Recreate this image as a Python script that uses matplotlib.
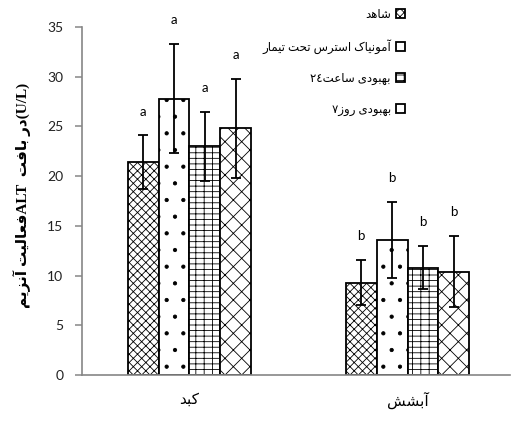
import numpy as np
import matplotlib
matplotlib.use("Agg")
import matplotlib.pyplot as plt

# minimal Persian shaping: matplotlib 3.10 does not join Arabic letters
# forms = (isolated, final, initial, medial)
FORMS = {
    'ا': ('\uFE8D', '\uFE8E', None, None),
    'آ': ('\uFE81', '\uFE82', None, None),
    'ب': ('\uFE8F', '\uFE90', '\uFE91', '\uFE92'),
    'ت': ('\uFE95', '\uFE96', '\uFE97', '\uFE98'),
    'ح': ('\uFEA1', '\uFEA2', '\uFEA3', '\uFEA4'),
    'د': ('\uFEA9', '\uFEAA', None, None),
    'ر': ('\uFEAD', '\uFEAE', None, None),
    'ز': ('\uFEAF', '\uFEB0', None, None),
    'س': ('\uFEB1', '\uFEB2', '\uFEB3', '\uFEB4'),
    'ش': ('\uFEB5', '\uFEB6', '\uFEB7', '\uFEB8'),
    'ع': ('\uFEC9', '\uFECA', '\uFECB', '\uFECC'),
    'ف': ('\uFED1', '\uFED2', '\uFED3', '\uFED4'),
    'ک': ('\uFB8E', '\uFB8F', '\uFB90', '\uFB91'),
    'ل': ('\uFEDD', '\uFEDE', '\uFEDF', '\uFEE0'),
    'م': ('\uFEE1', '\uFEE2', '\uFEE3', '\uFEE4'),
    'ن': ('\uFEE5', '\uFEE6', '\uFEE7', '\uFEE8'),
    'ه': ('\uFEE9', '\uFEEA', '\uFEEB', '\uFEEC'),
    'و': ('\uFEED', '\uFEEE', None, None),
    'ی': ('\uFBFC', '\uFBFD', '\uFBFE', '\uFBFF'),
}


def fa(text):
    out = []
    for i, ch in enumerate(text):
        f = FORMS.get(ch)
        if f is None:
            out.append(ch)
            continue
        prev = FORMS.get(text[i - 1]) if i > 0 else None
        nxt = FORMS.get(text[i + 1]) if i + 1 < len(text) else None
        jp = prev is not None and prev[2] is not None
        jn = nxt is not None and f[2] is not None
        if jp and jn:
            out.append(f[3])
        elif jp:
            out.append(f[1])
        elif jn:
            out.append(f[2])
        else:
            out.append(f[0])
    return ''.join(reversed(out))


# data
categories = [fa('کبد'), fa('آبشش')]
series_names = [
    fa('شاهد'),
    ' '.join(fa(w) for w in 'تیمار تحت استرس آمونیاک'.split()),
    '٢٤' + fa('ساعت') + ' ' + fa('بهبودی'),
    '٧' + fa('روز') + ' ' + fa('بهبودی'),
]
means = [
    [21.4, 9.3],
    [27.8, 13.6],
    [23.0, 10.8],
    [24.8, 10.4],
]
errors = [
    [2.7, 2.3],
    [5.5, 3.8],
    [3.5, 2.2],
    [5.0, 3.6],
]
letters = [['a', 'b'], ['a', 'b'], ['a', 'b'], ['a', 'b']]
hatches = ['xxxx', '.', '---||', 'xx']

ylabel = fa('فعالیت آنزیم') + 'ALT  ' + fa('در بافت') + '(U/L)'

plt.rcParams['hatch.linewidth'] = 0.6
plt.rcParams['font.family'] = ['Lato', 'DejaVu Sans']

fig = plt.figure(figsize=(5.23, 4.21), dpi=100)
ax = fig.add_axes([82 / 523, 46 / 421, 428 / 523, 348 / 421])

x = np.arange(len(categories))
w = 0.142
for i in range(4):
    pos = x + (i - 1.5) * w
    ax.bar(pos, means[i], w, color='white', edgecolor='black', linewidth=1.3,
           hatch=hatches[i], label=series_names[i], zorder=2)
    ax.errorbar(pos, means[i], yerr=errors[i], fmt='none', ecolor='black',
                elinewidth=1.3, capsize=3.5, capthick=1.3, zorder=3)
    for j in range(len(categories)):
        ax.text(pos[j], means[i][j] + errors[i][j] + 2.4, letters[i][j],
                ha='center', va='center', fontsize=9.5, clip_on=False)

ax.set_xlim(-0.493, 1.47)
ax.set_ylim(0, 35)
ax.set_yticks(range(0, 36, 5))
ax.set_xticks(x)
ax.set_xticklabels(categories, fontsize=11, family=['DejaVu Sans'])
ax.tick_params(axis='x', length=0, pad=12)
ax.tick_params(axis='y', length=5, width=1.1, color='#868686', pad=8.5,
               labelsize=10, labelcolor='#222222')
for s in ['top', 'right']:
    ax.spines[s].set_visible(False)
for s in ['left', 'bottom']:
    ax.spines[s].set_color('#868686')
    ax.spines[s].set_linewidth(1.2)

fig.text(22 / 523, 1 - 195 / 421, ylabel, rotation=90, ha='center', va='center',
         fontsize=11, fontweight='bold', family=['Liberation Serif', 'DejaVu Sans'])

leg = ax.legend(loc='upper right', bbox_to_anchor=(405 / 523, 1 - 9 / 421),
                bbox_transform=fig.transFigure, frameon=False, markerfirst=False,
                fontsize=8.5, handlelength=0.8, handleheight=0.8, handletextpad=0.4,
                labelspacing=1.6, borderpad=0, borderaxespad=0)

fig.savefig('out.png', dpi=100)
